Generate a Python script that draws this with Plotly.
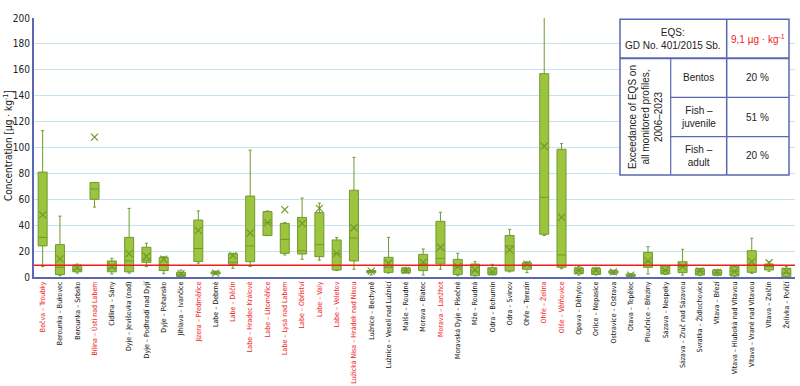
import plotly.graph_objects as go

sites = [
    "Bečva – Troubky", "Berounka – Bukovec", "Berounka – Srbsko", "Bílina – Ústí nad Labem",
    "Cidlina – Sány", "Dyje – Jevišovka (nad)", "Dyje – Podhradí nad Dyjí", "Dyje – Pohansko",
    "Jihlava – Ivančice", "Jizera – Předměřice", "Labe – Debrné", "Labe – Děčín",
    "Labe – Hradec Králové", "Labe – Litoměřice", "Labe – Lysá nad Labem", "Labe – Obříství",
    "Labe – Valy", "Labe – Veletov", "Lužická Nisa – Hrádek nad Nisou", "Lužnice – Bechyně",
    "Lužnice – Veselí nad Lužnicí", "Malše – Roudné", "Morava – Blatec", "Morava – Lanžhot",
    "Moravská Dyje – Písečné", "Mže – Roudná", "Odra – Bohumín", "Odra – Svinov",
    "Ohře – Terezín", "Ohře – Želina", "Olše – Věřňovice", "Opava – Děhylov",
    "Orlice – Nepasice", "Ostravice – Ostrava", "Otava – Topělec", "Ploučnice – Březiny",
    "Sázava – Nespeky", "Sázava – Zruč nad Sázavou", "Svratka – Židlochovice", "Vltava – Březí",
    "Vltava – Hluboká nad Vltavou", "Vltava – Vrané nad Vltavou", "Vltava – Zelčín", "Želivka – Poříčí",
]
highlight = [1, 0, 0, 1, 0, 0, 0, 0, 0, 1, 0, 1, 1, 1, 1, 1, 1, 1, 1, 0, 0, 0, 0, 1,
             0, 0, 0, 0, 0, 1, 1, 0, 0, 0, 0, 0, 0, 0, 0, 0, 0, 0, 0, 0]

w_low = [8, 1, 3, 54, 2.3, 3, 8, 2.5, 0, 10.7, 2, 6.7, 8, 32, 17, 13.7, 13, 5, 6, 1.5, 3, 3,
         1.5, 6, 1, 0.8, 1.5, 4, 3.4, 32, 6.4, 1.5, 1.5, 2, 0.3, 2.3, 2, 1.5, 1, 1, 0, 2.8, 4.4, 0]
q1 = [24, 1.8, 4, 60, 4, 4, 11.3, 5, 0.5, 12, 2.3, 9.8, 11.8, 32, 18.3, 17.8, 15.7, 5.4, 12.4,
      3.3, 3.6, 3.3, 4.9, 10, 2, 1, 2, 4.6, 6, 33, 7.5, 2.5, 2, 2.9, 0.5, 7.5, 2.3, 3.4, 1.5,
      1.5, 0.8, 3.6, 5.4, 0.3]
median = [30.6, 7.5, 6, 68, 7, 12.4, 13, 9.3, 1.7, 22, 3, 11.4, 24, 42, 29, 20.3, 25, 18, 30,
          4.4, 7.5, 5, 10, 14.4, 8, 4.7, 3.8, 24, 10, 61.5, 17, 5, 4.5, 3.9, 1.2, 11.8, 4.9, 8,
          4.4, 3.3, 4.4, 9, 8, 3]
q3 = [81, 25, 9, 73, 12.4, 30.6, 23, 15, 3.4, 44, 4, 18, 62.5, 50.5, 41.4, 46, 49.7, 28.6, 67,
      5, 15.2, 6.7, 17.5, 43, 13.6, 10, 7.2, 32, 11, 157, 98.6, 7, 6.5, 4.9, 2.3, 19, 8.5, 11.8,
      6.4, 5.4, 8, 20.3, 10, 6.7]
w_high = [113, 47, 10, 73, 14.4, 53, 26, 15.7, 5.4, 51, 4.5, 18.3, 98, 51, 42, 61, 57, 30.4,
          92.4, 5.4, 30.6, 7.5, 21.6, 50, 18.3, 11.8, 9.8, 36.8, 11.8, 205, 103, 8, 7.5, 5.2,
          2.6, 23.4, 8.7, 21.4, 6.7, 5.9, 8.5, 29.9, 11.8, 8]
means = [48, 14, 7, 108, 8, 18, 16, 13.7, 2.5, 36, 3, 16.5, 34, 42, 52, 41.4, 53, 18.3, 38,
         4.5, 10.6, 5, 11.4, 23, 8, 5.4, 4, 21, 10, 101, 46, 5, 5, 3.9, 1.5, 12.4, 5, 8, 4.6,
         3.6, 4.4, 11.8, 11, 4.4]

eqs = 9.1
y_ticks = list(range(0, 201, 20))
y_title = "Concentration [µg · kg<sup>-1</sup>]"

table_header = ["EQS:<br>GD No. 401/2015 Sb.", "9,1 µg · kg<sup>-1</sup>"]
table_side = "Exceedance of EQS on<br>all monitored profiles,<br>2006–2023"
table_groups = ["Bentos", "Fish –<br>juvenile", "Fish –<br>adult"]
table_values = ["20 %", "51 %", "20 %"]

RED = "#ee1c1c"
GREEN_FILL = "#9dc43f"
GREEN_LINE = "#6f9a2e"
BLUE = "#5b67b3"
GRID = "#c6e4ef"
NARROW = "Liberation Sans Narrow, Arial Narrow, DejaVu Sans Condensed, sans-serif"
FONT = "Liberation Sans Narrow, Arial Narrow, sans-serif"

ticktext = [f"<span style='color:{RED}'>{s}</span>" if h else s for s, h in zip(sites, highlight)]

fig = go.Figure()
fig.add_trace(go.Box(
    x=sites, q1=q1, median=median, q3=q3, lowerfence=w_low, upperfence=w_high,
    fillcolor=GREEN_FILL, line=dict(color=GREEN_LINE, width=1),
    width=0.52, whiskerwidth=0.35, boxpoints=False, showlegend=False, hoverinfo="skip",
))
fig.add_trace(go.Scatter(
    x=sites, y=means, mode="markers", showlegend=False, hoverinfo="skip",
    marker=dict(symbol="x-thin", size=7, line=dict(color=GREEN_LINE, width=1.2)),
))

L, R, T, B = 34, 5, 18, 109
W, H = 800, 386
pw, ph = W - L - R, H - T - B


def px(x):
    return (x - L) / pw


def py(y):
    return (H - B - y) / ph


shapes = [dict(type="line", xref="paper", yref="y", x0=0, x1=1, y0=eqs, y1=eqs,
               line=dict(color=RED, width=1.5))]
# table
tx0, tx1, tx2, tx3 = 620, 670.7, 726.7, 789
ty0, ty1, ty2, ty3, ty4 = 19.3, 58.3, 97.3, 136.7, 175
shapes.append(dict(type="rect", xref="paper", yref="paper", x0=px(tx0), x1=px(tx3),
                   y0=py(ty4), y1=py(ty0), fillcolor="white", line=dict(color=BLUE, width=1.5),
                   layer="above"))
for (xa, ya, xb, yb, lw) in [
    (tx0, ty1, tx3, ty1, 2), (tx1, ty2, tx3, ty2, 1.2), (tx1, ty3, tx3, ty3, 1.2),
    (tx1, ty1, tx1, ty4, 1.2), (tx2, ty0, tx2, ty4, 1.5),
]:
    shapes.append(dict(type="line", xref="paper", yref="paper", x0=px(xa), x1=px(xb),
                       y0=py(ya), y1=py(yb), line=dict(color=BLUE, width=lw), layer="above"))

ann = []
tf = dict(family=FONT, size=10, color="#222")
common = dict(xref="paper", yref="paper", showarrow=False, xanchor="center", yanchor="middle",
              align="center")
ann.append(dict(x=px(8), y=py(146), text=y_title, textangle=-90,
                font=dict(family=NARROW, size=10, color="#222"), **common))
ann.append(dict(x=px((tx0 + tx2) / 2), y=py((ty0 + ty1) / 2), text=table_header[0], font=tf,
                **common))
ann.append(dict(x=px((tx2 + tx3) / 2), y=py((ty0 + ty1) / 2), text=table_header[1],
                font=dict(family=FONT, size=10, color=RED), **common))
ann.append(dict(x=px((tx0 + tx1) / 2), y=py((ty1 + ty4) / 2), text=table_side, textangle=-90,
                font=tf, **common))
rows = [(ty1, ty2), (ty2, ty3), (ty3, ty4)]
for (a, b), g, v in zip(rows, table_groups, table_values):
    ann.append(dict(x=px((tx1 + tx2) / 2), y=py((a + b) / 2), text=g, font=tf, **common))
    ann.append(dict(x=px((tx2 + tx3) / 2), y=py((a + b) / 2), text=v, font=tf, **common))

fig.update_layout(
    width=W, height=H, margin=dict(l=L, r=R, t=T, b=B, autoexpand=False),
    paper_bgcolor="white", plot_bgcolor="white",
    shapes=shapes, annotations=ann,
    xaxis=dict(tickmode="array", tickvals=sites, ticktext=ticktext, tickangle=-90,
               tickfont=dict(family=NARROW, size=7, color="#111"), automargin=False,
               showline=True, linecolor=BLUE, linewidth=1.5, showgrid=False,
               range=[-0.5, len(sites) - 0.5], ticks=""),
    yaxis=dict(range=[0, 200], tickvals=y_ticks, showgrid=True, gridcolor=GRID, gridwidth=1,
               showline=True, linecolor=BLUE, linewidth=2, zeroline=False, ticks="",
               automargin=False,
               tickfont=dict(family=NARROW, size=10, color="#222")),
)

fig.write_html(
    "out.html",
    config={"displayModeBar": False},
    post_script="document.body.style.margin='0';document.body.style.overflow='hidden';",
)
